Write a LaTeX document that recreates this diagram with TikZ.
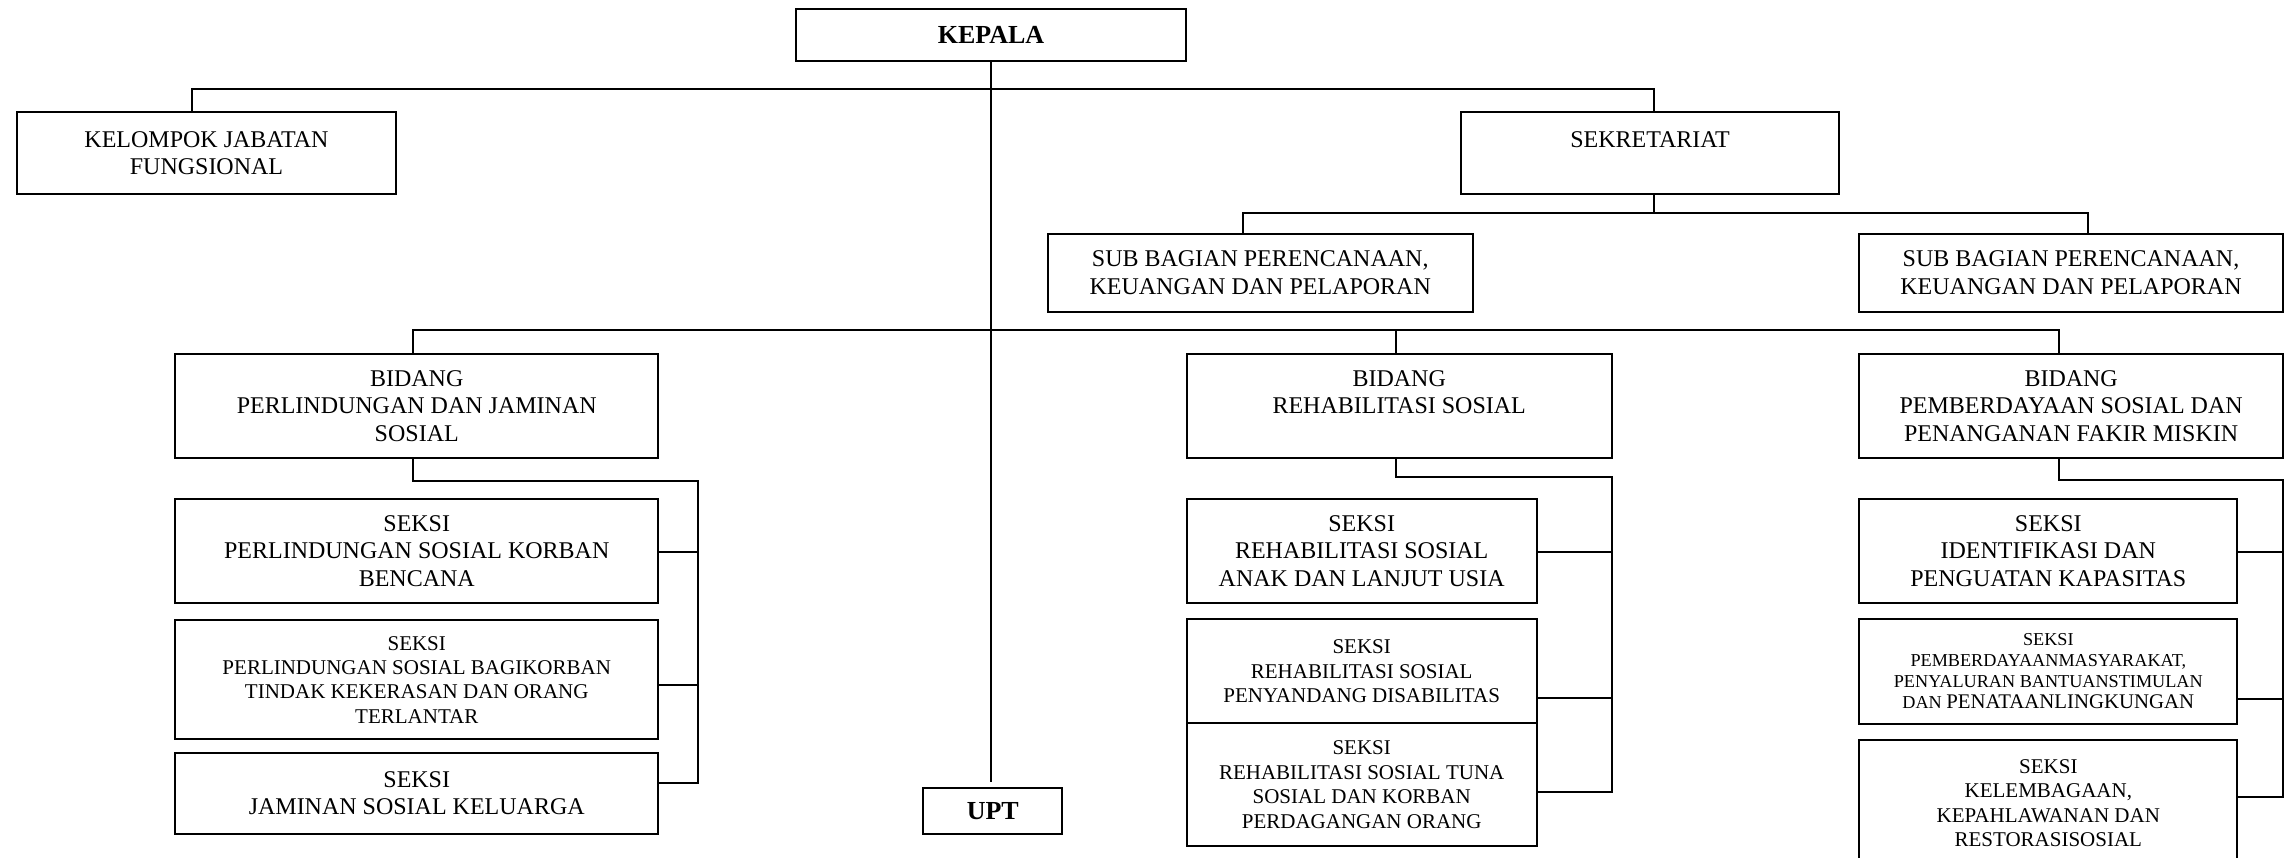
\documentclass[tikz,border=0pt]{standalone}
\usepackage{fontspec}
\setmainfont{Liberation Serif}
\newcommand\fbig{\fontsize{24}{27.6}\selectfont}
\newcommand\fsml{\fontsize{21}{24.4}\selectfont}
\newcommand\ftny{\fontsize{18.2}{21}\selectfont}
\newcommand\fbld{\fontsize{26}{30}\selectfont\bfseries}
\begin{document}
\begin{tikzpicture}[x=1pt,y=-1pt,
  box/.style={draw, line width=2pt, inner sep=0pt, align=center, font=\fbig},
  conn/.style={line width=2pt}]
\useasboundingbox (0,0) rectangle (2285,857);
% boxes
\node[box, font=\fbld, minimum width=390, minimum height=52] (kepala) at (991,34.5) {KEPALA};
\node[box, minimum width=379, minimum height=82.6] (kjf) at (206.5,153) {KELOMPOK JABATAN\\FUNGSIONAL};
\node[box, minimum width=378, minimum height=82.6] (sekr) at (1650,153) {SEKRETARIAT\\\mbox{}};
\node[box, minimum width=425.5, minimum height=77.7] (sub1) at (1260.25,272.85) {SUB BAGIAN PERENCANAAN,\\KEUANGAN DAN PELAPORAN};
\node[box, minimum width=424, minimum height=77.7] (sub2) at (2071,272.85) {SUB BAGIAN PERENCANAAN,\\KEUANGAN DAN PELAPORAN};
\node[box, minimum width=482.9, minimum height=104.4] (bid1) at (416.75,405.8) {BIDANG\\PERLINDUNGAN DAN JAMINAN\\SOSIAL};
\node[box, minimum width=425, minimum height=104.4] (bid2) at (1399.2,405.8) {BIDANG\\REHABILITASI SOSIAL\\\mbox{}};
\node[box, minimum width=423.7, minimum height=104.4] (bid3) at (2071.15,405.8) {BIDANG\\PEMBERDAYAAN SOSIAL DAN\\PENANGANAN FAKIR MISKIN};
\node[box, minimum width=482.9, minimum height=103.8] (s11) at (416.75,551) {SEKSI\\PERLINDUNGAN SOSIAL KORBAN\\BENCANA};
\node[box, font=\fsml, minimum width=482.9, minimum height=118.9] (s12) at (416.75,679.75) {SEKSI\\PERLINDUNGAN SOSIAL BAGIKORBAN\\TINDAK KEKERASAN DAN ORANG\\TERLANTAR};
\node[box, minimum width=482.9, minimum height=81.2] (s13) at (416.75,793.1) {SEKSI\\JAMINAN SOSIAL KELUARGA};
\node[box, minimum width=350, minimum height=103.8] (s21) at (1361.7,551) {SEKSI\\REHABILITASI SOSIAL\\ANAK DAN LANJUT USIA};
\node[box, font=\fsml, minimum width=350, minimum height=104.3] (s22) at (1361.7,671.15) {SEKSI\\REHABILITASI SOSIAL\\PENYANDANG DISABILITAS};
\node[box, font=\fsml, minimum width=350, minimum height=122.7] (s23) at (1361.7,784.65) {SEKSI\\REHABILITASI SOSIAL TUNA\\SOSIAL DAN KORBAN\\PERDAGANGAN ORANG};
\node[box, minimum width=378, minimum height=103.8] (s31) at (2048.3,551) {SEKSI\\IDENTIFIKASI DAN\\PENGUATAN KAPASITAS};
\node[box, font=\ftny, minimum width=378, minimum height=105] (s32) at (2048.3,671.5) {SEKSI\\PEMBERDAYAANMASYARAKAT,\\PENYALURAN BANTUANSTIMULAN\\DAN {\fontsize{20.8}{21}\selectfont PENATAANLINGKUNGAN}};
\node[box, font=\fsml, minimum width=378, minimum height=126] (s33) at (2048.3,803) {SEKSI\\KELEMBAGAAN,\\KEPAHLAWANAN DAN\\RESTORASISOSIAL};
\node[box, font=\fbld, minimum width=139, minimum height=45.7] (upt) at (992.8,811.15) {UPT};
% top level
\coordinate (busL) at (192.3,88.7);
\coordinate (busR) at (1654,88.7);
\draw[conn] (kjf.north -| busL) -- (busL) -- (busR) -- (sekr.north -| busR);
\draw[conn, shorten >=5pt] (kepala.south) -- (kepala.south |- upt.north);
% sekretariat
\coordinate (sbM) at (1654,213);
\coordinate (sbL) at (1243,213);
\coordinate (sbR) at (2088,213);
\draw[conn] (sekr.south -| sbM) -- (sbM);
\draw[conn] (sub1.north -| sbL) -- (sbL) -- (sbR) -- (sub2.north -| sbR);
% bidang bus
\coordinate (bbL) at (413,329.6);
\coordinate (bbM) at (1395.7,329.6);
\coordinate (bbR) at (2059.3,329.6);
\draw[conn] (bid1.north -| bbL) -- (bbL) -- (bbR) -- (bid3.north -| bbR);
\draw[conn] (bbM) -- (bid2.north -| bbM);
% bidang 1 group
\coordinate (b1a) at (413,481.3);
\coordinate (b1b) at (698,481.3);
\coordinate (b1c) at (698,783);
\coordinate (j11) at (698,552.2);
\coordinate (j12) at (698,685.4);
\draw[conn] (bid1.south -| b1a) -- (b1a) -- (b1b) -- (b1c) -- (s13.east |- b1c);
\draw[conn] (s11.east |- j11) -- (j11);
\draw[conn] (s12.east |- j12) -- (j12);
% bidang 2 group
\coordinate (b2a) at (1395.7,476.8);
\coordinate (b2b) at (1611.7,476.8);
\coordinate (b2c) at (1611.7,792);
\coordinate (j21) at (1611.7,552.2);
\coordinate (j22) at (1611.7,698.4);
\draw[conn] (bid2.south -| b2a) -- (b2a) -- (b2b) -- (b2c) -- (s23.east |- b2c);
\draw[conn] (s21.east |- j21) -- (j21);
\draw[conn] (s22.east |- j22) -- (j22);
% bidang 3 group
\coordinate (b3a) at (2059.3,479.6);
\coordinate (b3b) at (2283,479.6);
\coordinate (b3c) at (2283,797);
\coordinate (j31) at (2283,552.2);
\coordinate (j32) at (2283,698.6);
\draw[conn] (bid3.south -| b3a) -- (b3a) -- (b3b) -- (b3c) -- (s33.east |- b3c);
\draw[conn] (s31.east |- j31) -- (j31);
\draw[conn] (s32.east |- j32) -- (j32);
\end{tikzpicture}
\end{document}
